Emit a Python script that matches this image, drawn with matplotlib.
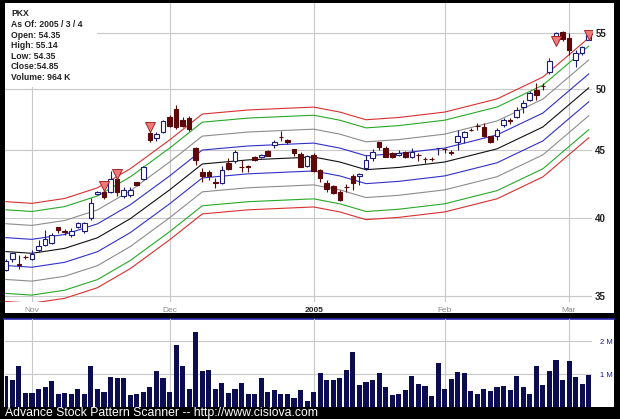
import matplotlib
matplotlib.use("Agg")
import matplotlib.pyplot as plt
from matplotlib.patches import Rectangle
from matplotlib.lines import Line2D
import numpy as np

plt.rcParams['font.family'] = ['Liberation Sans', 'DejaVu Sans']

# daily candles, 2004-10-26 .. 2005-03-04 (trading-day index 0..89)
opens = [36.59, 37.27, 36.97, 37.42, 37.30, 37.87, 38.20, 38.31, 39.36, 39.10,
         38.86, 39.38, 39.13, 39.99, 41.68, 41.87, 41.87, 42.77, 41.58, 41.63,
         42.57, 42.77, 46.30, 45.90, 46.40, 47.60, 48.30, 47.40, 47.50, 45.10,
         43.34, 43.34, 42.55, 42.48, 44.01, 44.16, 43.69, 43.73, 44.42, 44.42,
         44.91, 45.35, 45.98, 45.77, 45.04, 44.68, 43.76, 44.58, 43.46, 42.52,
         42.28, 41.85, 42.20, 43.02, 43.02, 43.59, 44.35, 45.63, 45.12, 44.73,
         44.62, 44.85, 44.47, 44.60, 44.28, 44.28, 45.10, 45.05, 44.80, 45.63,
         45.98, 46.58, 46.90, 46.78, 46.08, 46.08, 46.97, 47.33, 47.64, 48.40,
         49.03, 49.88, 50.25, 51.48, 54.21, 55.15, 54.53, 52.53, 53.19, 54.35]
highs = [37.25, 37.70, 37.54, 37.54, 37.87, 38.53, 39.20, 39.02, 39.38, 39.25,
         39.30, 39.76, 39.72, 41.40, 41.90, 41.99, 43.41, 42.87, 42.19, 42.20,
         42.60, 43.75, 46.60, 46.40, 47.40, 47.80, 48.60, 47.60, 47.70, 45.20,
         43.59, 43.46, 42.85, 43.76, 44.35, 44.95, 44.22, 43.80, 44.52, 44.70,
         44.95, 45.77, 46.50, 45.85, 45.04, 44.85, 44.60, 44.73, 43.50, 42.70,
         42.38, 41.99, 42.40, 43.16, 43.20, 44.60, 45.04, 45.63, 45.27, 44.80,
         44.98, 44.90, 45.12, 44.78, 44.47, 44.42, 45.14, 45.12, 44.95, 46.56,
         46.45, 46.70, 47.10, 47.10, 46.10, 46.70, 47.50, 47.50, 48.45, 49.03,
         49.75, 50.46, 50.46, 52.70, 55.15, 55.20, 55.00, 53.44, 53.85, 55.14]
lows = [36.55, 37.10, 36.63, 37.27, 37.22, 37.76, 38.12, 38.27, 39.00, 38.86,
        38.70, 39.33, 39.00, 39.90, 41.60, 41.32, 41.80, 41.58, 41.40, 41.50,
        42.30, 42.70, 45.60, 45.70, 46.30, 46.80, 46.60, 46.80, 46.50, 43.80,
        42.59, 42.70, 42.12, 42.43, 43.46, 44.01, 43.30, 43.30, 44.10, 44.35,
        44.50, 45.12, 45.72, 45.43, 44.52, 43.67, 43.67, 43.34, 42.60, 41.87,
        41.70, 41.20, 41.87, 41.99, 42.35, 43.46, 44.10, 44.98, 44.42, 44.40,
        44.55, 44.38, 44.35, 44.12, 44.01, 44.12, 44.60, 44.73, 44.60, 44.98,
        45.50, 46.45, 46.56, 46.03, 45.50, 45.77, 46.83, 47.05, 47.50, 47.95,
        48.95, 49.03, 49.88, 51.30, 54.10, 54.30, 52.98, 51.93, 52.98, 54.35]
closes = [37.18, 37.65, 36.88, 37.39, 37.61, 38.13, 38.57, 38.84, 39.20, 39.08,
          39.13, 39.65, 39.65, 41.04, 41.83, 41.51, 42.77, 41.87, 41.99, 41.99,
          42.38, 43.67, 45.80, 46.20, 47.30, 46.90, 46.80, 46.90, 46.60, 44.20,
          43.02, 43.02, 42.52, 43.46, 43.54, 44.83, 43.67, 43.71, 44.22, 44.62,
          44.55, 45.59, 45.96, 45.57, 44.78, 43.71, 44.52, 43.41, 42.85, 42.04,
          41.80, 41.27, 42.19, 42.48, 43.16, 44.22, 44.85, 45.24, 44.47, 44.47,
          44.75, 44.42, 44.85, 44.58, 44.27, 44.27, 45.12, 45.03, 44.78, 46.08,
          46.38, 46.56, 46.89, 46.08, 45.63, 46.56, 47.37, 47.31, 48.19, 48.75,
          49.60, 49.46, 50.23, 52.47, 55.00, 54.45, 53.44, 53.14, 53.75, 54.85]
# volume, millions of shares
volumes = [0.95, 0.83, 1.23, 0.42, 0.42, 0.54, 0.61, 0.79, 0.39, 0.42,
           0.39, 0.54, 0.39, 1.24, 0.55, 0.46, 0.91, 0.89, 0.89, 0.36,
           0.39, 0.44, 0.61, 1.09, 0.87, 0.46, 1.89, 1.23, 0.55, 2.27,
           1.10, 1.12, 0.54, 0.73, 0.42, 0.54, 0.73, 0.39, 0.38, 0.87,
           0.45, 0.52, 0.38, 0.39, 0.28, 0.52, 0.18, 0.44, 1.04, 0.81,
           0.81, 0.87, 1.12, 1.68, 0.68, 0.76, 0.81, 1.02, 0.60, 0.36,
           0.39, 0.52, 0.95, 0.70, 0.64, 0.33, 1.32, 0.55, 0.85, 1.07,
           1.02, 0.49, 0.38, 0.55, 0.49, 0.60, 0.64, 0.52, 0.95, 0.61,
           0.39, 1.23, 0.66, 1.09, 1.42, 0.83, 1.38, 0.91, 0.70, 0.964]

# centre line of the channel (read at a few days)
center_idx = [0, 4, 9, 14, 19, 25, 30, 37, 47, 51, 55, 60, 67, 75, 82, 89]
center_val = [37.76, 37.65, 37.97, 38.67, 39.96, 41.99, 43.91, 44.22, 44.44,
              44.06, 43.48, 43.65, 44.06, 45.07, 46.80, 50.06]

# pattern signals (down triangles)
signal_idx = [15, 17, 22, 84, 89]
signal_val = [42.25, 43.16, 46.80, 54.30, 54.84]

month_ticks = [4, 25, 47, 67, 86]
month_labels = ["Nov", "Dec", "2005", "Feb", "Mar"]
price_ticks = [35, 40, 45, 50, 55]
vol_ticks = [1, 2]
vol_labels = ["1 M", "2 M"]

info_lines = ["PKX", "As Of: 2005 / 3 / 4", "Open: 54.35", "High: 55.14",
              "Low: 54.35", "Close:54.85", "Volume: 964 K"]

W, H = 620, 419


def box(x0, y0, x1, y1):
    # pixel box (from top-left) -> figure fraction rect
    return [x0 / W, 1 - y1 / H, (x1 - x0) / W, (y1 - y0) / H]


fig = plt.figure(figsize=(W / 100, H / 100), dpi=100, facecolor="black")

# white panels
fig.patches.append(Rectangle((5 / W, 1 - 313 / H), 609 / W, 310 / H,
                             transform=fig.transFigure, fc="white", ec="none", zorder=-5))
fig.patches.append(Rectangle((4 / W, 1 - 407 / H), 610 / W, 88 / H,
                             transform=fig.transFigure, fc="white", ec="none", zorder=-5))
fig.lines.append(Line2D([4 / W, 614 / W], [1 - 318.5 / H] * 2, transform=fig.transFigure,
                        color="#2828b0", lw=1.2, zorder=-4))

grid_c = "#c8c8c8"

# ---- price panel
ax = fig.add_axes(box(5, 3, 592, 302))
ax.set_facecolor("none")
ax.set_yscale("log")
ax.set_xlim(-0.12, 89.5)
ax.set_ylim(34.62, 57.94)
for s in ax.spines.values():
    s.set_visible(False)
ax.set_axisbelow(True)
ax.grid(True, color=grid_c, lw=0.8)
ax.yaxis.tick_right()
ax.set_yticks(price_ticks)
ax.set_yticks([], minor=True)
ax.set_yticklabels([str(p) for p in price_ticks], fontsize=7, fontweight="bold", color="#202020")
ax.set_xticks(month_ticks)
ax.set_xticklabels(month_labels, fontsize=6, color="#8a8a8a")
ax.tick_params(axis="both", length=0)
ax.tick_params(axis="y", pad=2.3)
ax.tick_params(axis="x", pad=3.6)
for lab in ax.get_xticklabels():
    if lab.get_text() == "2005":
        lab.set_fontweight("bold")
        lab.set_color("#202020")

# channel lines
cx = np.array(center_idx)
cv = np.array(center_val)
band_steps = [0.086, 0.072, 0.048, 0.024]
band_colors = ["#d83030", "#28a828", "#8c8c8c", "#3030c8"]
for st, col in zip(band_steps, band_colors):
    ax.plot(cx, cv * np.exp(st), color=col, lw=0.8)
    ax.plot(cx, cv * np.exp(-st), color=col, lw=0.8)
ax.plot(cx, cv, color="#101010", lw=0.8)

# candles
x = np.arange(len(opens))
o = np.array(opens)
c = np.array(closes)
up = c > o
wick_col = np.where(up, "#1c1c78", "#5a0a0a")
ax.vlines(x, lows, highs, colors=wick_col, lw=0.8, zorder=3)
bot = np.minimum(o, c)
hgt = np.maximum(np.abs(c - o), 0.02)
ax.bar(x[up], hgt[up], bottom=bot[up], width=0.7, color="white",
       edgecolor="#1c1c78", lw=0.8, zorder=4)
ax.bar(x[~up], hgt[~up], bottom=bot[~up], width=0.7, color="#600808",
       edgecolor="#5a0a0a", lw=0.8, zorder=4)

ax.plot(signal_idx, signal_val, linestyle="none", marker="v", ms=6.5,
        mfc="#f07878", mec="#a02828", mew=0.7, zorder=5)

# info box
fig.patches.append(Rectangle((5 / W, 1 - 87 / H), 92 / W, 84 / H,
                             transform=fig.transFigure, fc="white", ec="none", zorder=2))
for k, line in enumerate(info_lines):
    fig.text(11 / W, 1 - (14 + 10.55 * k) / H, line, fontsize=6.2, fontweight="bold",
             color="#222222", va="center", ha="left", zorder=3)

# ---- volume panel
av = fig.add_axes(box(5, 319, 592, 407))
av.set_facecolor("none")
av.set_xlim(-0.12, 89.5)
av.set_ylim(0, 2.667)
for s in av.spines.values():
    s.set_visible(False)
av.set_axisbelow(True)
av.grid(True, color=grid_c, lw=0.8)
av.bar(x, volumes, width=0.78, color="#0c0c50", zorder=3)
av.yaxis.tick_right()
av.set_yticks(vol_ticks)
av.set_yticklabels(vol_labels, fontsize=5.5, color="#1a1a90")
av.set_xticks(month_ticks)
av.set_xticklabels([])
av.tick_params(axis="both", length=0)
av.tick_params(axis="y", pad=5.5)

fig.text(5 / W, 1 - 412.5 / H, "Advance Stock Pattern Scanner -- http://www.cisiova.com",
         color="white", fontsize=8.8, va="center", ha="left")

fig.savefig("out.png", dpi=100, facecolor="black")
